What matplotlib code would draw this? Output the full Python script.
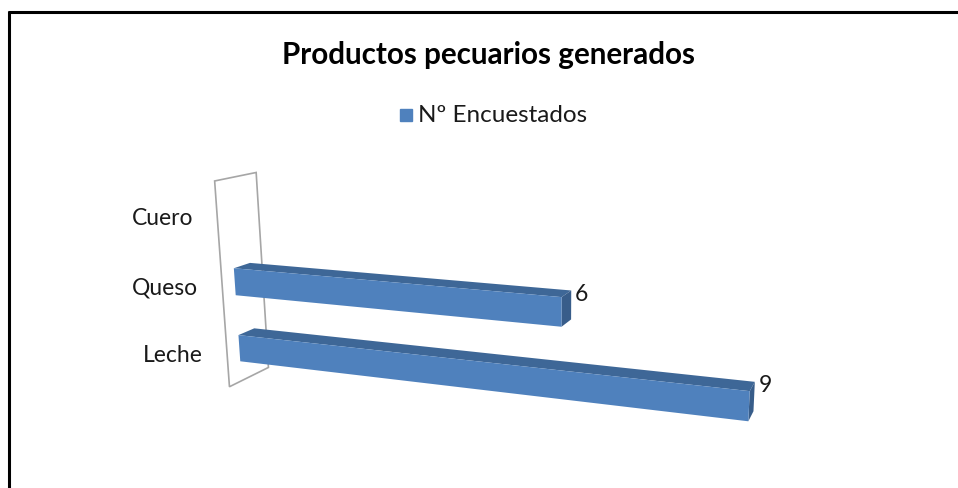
import numpy as np
import matplotlib
matplotlib.use("Agg")
import matplotlib.pyplot as plt
from matplotlib.patches import Polygon

# Chart data
categorias = ["Leche", "Queso", "Cuero"]
valores = [9, 6, None]
serie = "Nº Encuestados"
titulo = "Productos pecuarios generados"

# 3-D view: world (value, category, depth) -> pixel coordinates
CAMARA = np.array([
    [45.5891, -8.16181, 54.7742, 227.078],
    [0.0236488, -71.808, 1.8633, 354.727],
    [-0.0160506, -0.0148587, 0.0578071, 1.0],
])


def proj(X, Y, Z):
    h = CAMARA @ np.array([X, Y, Z, 1.0])
    return h[0] / h[2], h[1] / h[2]


plt.rcParams["font.family"] = ["Lato", "DejaVu Sans"]

fig = plt.figure(figsize=(9.58, 4.89), dpi=100)
ax = fig.add_axes([0, 0, 1, 1])
ax.set_xlim(0, 958)
ax.set_ylim(489, 0)
ax.axis("off")

# outer frame
ax.plot([8, 958], [13, 13], color="black", lw=2.2, solid_capstyle="butt")
ax.plot([9, 9], [12, 489], color="black", lw=2.2, solid_capstyle="butt")

ax.text(489, 55, titulo, ha="center", va="center", fontsize=21.3,
        fontweight="bold", color="black")

# legend
ax.add_patch(plt.Rectangle((400, 110), 12, 12, color="#4F81BD"))
ax.text(418, 116, serie, ha="left", va="center", fontsize=17.5, color="#1a1a1a")

# side wall
ymin, ymax = -0.5, len(categorias) - 0.5
wall = [proj(0, ymax, 0), proj(0, ymax, 1), proj(0, ymin, 1), proj(0, ymin, 0)]
ax.add_patch(Polygon(wall, closed=True, fc="white", ec="#a6a6a6", lw=1.2))

half, zf, zb = 0.2, 0.3, 0.7
for i, (cat, val) in enumerate(zip(categorias, valores)):
    lx, ly = proj(0, i, 0)
    ax.text(lx - 24, ly + 1, cat, ha="right", va="center", fontsize=16.5, color="#1a1a1a")
    if val is None:
        continue
    y0, y1 = i - half, i + half
    front = [proj(0, y0, zf), proj(val, y0, zf), proj(val, y1, zf), proj(0, y1, zf)]
    top = [proj(0, y1, zf), proj(val, y1, zf), proj(val, y1, zb), proj(0, y1, zb)]
    side = [proj(val, y0, zf), proj(val, y0, zb), proj(val, y1, zb), proj(val, y1, zf)]
    ax.add_patch(Polygon(top, closed=True, fc="#3E6797", ec="none"))
    ax.add_patch(Polygon(side, closed=True, fc="#385D8A", ec="none"))
    ax.add_patch(Polygon(front, closed=True, fc="#4F81BD", ec="none"))
    tx, ty = proj(val, y1, zb)
    ax.text(tx + 4, ty + 3, f"{val}", ha="left", va="center", fontsize=16.5, color="#1a1a1a")

fig.savefig("out.png", dpi=100)
